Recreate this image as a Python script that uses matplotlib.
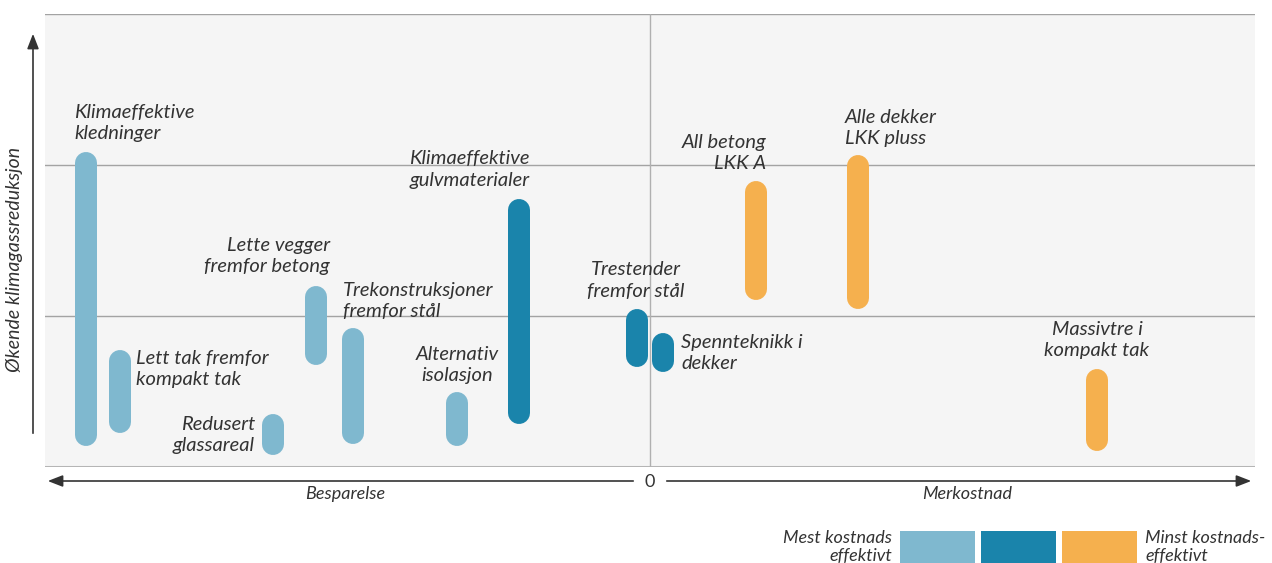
import numpy as np
import matplotlib
matplotlib.use('Agg')
import matplotlib.pyplot as plt
from matplotlib.patches import Rectangle

plt.rcParams['font.family'] = ['Lato', 'DejaVu Sans']

# Data: x = cost (0 = no extra cost), y = climate gas reduction range
labels = ['Klimaeffektive\nkledninger', 'Lett tak fremfor\nkompakt tak', 'Redusert\nglassareal',
          'Lette vegger\nfremfor betong', 'Trekonstruksjoner\nfremfor stål', 'Alternativ\nisolasjon',
          'Klimaeffektive\ngulvmaterialer', 'Trestender\nfremfor stål', 'Spennteknikk i\ndekker',
          'All betong\nLKK A', 'Alle dekker\nLKK pluss', 'Massivtre i\nkompakt tak']
cost = [-564, -530, -377, -334, -297, -193, -131, -13, 13, 106, 208, 447]
red_low = [0.14, 0.225, 0.08, 0.675, 0.15, 0.14, 0.285, 0.66, 0.63, 1.105, 1.045, 0.105]
red_high = [2.085, 0.775, 0.35, 1.2, 0.92, 0.5, 1.775, 1.045, 0.885, 1.895, 2.065, 0.65]
group = [0, 0, 0, 0, 0, 0, 1, 1, 1, 2, 2, 2]

colors = ['#7fb8cf', '#1a84ab', '#f5b04e']

# label placement: x offset from bar (data units), alignment, label block centre (y)
lab_dx = [-12, 16, -18, 14, -10, 0, 11, -1, 18, 10, -13, 0]
lab_ha = ['left', 'left', 'right', 'right', 'left', 'center', 'right', 'center', 'left',
          'right', 'left', 'center']
lab_y = [2.28, 0.65, 0.21, 1.395, 1.1, 0.675, 1.97, 1.235, 0.755, 2.08, 2.245, 0.84]

W, H = 1272, 563
fig = plt.figure(figsize=(W / 100, H / 100), dpi=100)
ax = fig.add_axes([45 / W, (H - 467) / H, 1210 / W, 453 / H])
ax.set_xlim(-605, 605)
ax.set_ylim(0, 3)
ax.set_facecolor('#f5f5f5')
for s in ax.spines.values():
    s.set_visible(False)
ax.set_xticks([])
ax.set_yticks([])

for yv in [1, 2, 3]:
    ax.axhline(yv, color='#a3a3a3', lw=1.0, zorder=1)
ax.axhline(0, color='#b5b5b5', lw=2.2, zorder=1)
ax.axvline(0, color='#b0b0b0', lw=1.0, zorder=1)

bar_px = 22
px_per_y = 453 / 3
r = (bar_px / 2) / px_per_y
lw_pt = bar_px * 72 / 100
for i in range(len(cost)):
    ax.plot([cost[i], cost[i]], [red_low[i] + r, red_high[i] - r], color=colors[group[i]],
            lw=lw_pt, solid_capstyle='round', zorder=3)
    ax.text(cost[i] + lab_dx[i], lab_y[i], labels[i], ha=lab_ha[i], va='center',
            fontsize=14.5, style='italic', color='#333333', linespacing=1.3, zorder=4)

# overlay in pixel coordinates for arrows and legend
ov = fig.add_axes([0, 0, 1, 1])
ov.set_xlim(0, W)
ov.set_ylim(H, 0)
ov.axis('off')
ov.patch.set_alpha(0)

ak = dict(arrowstyle='-|>,head_length=0.9,head_width=0.35', color='#333333', lw=1.2)
ov.annotate('', xy=(33, 31), xytext=(33, 436), arrowprops=ak)
ov.annotate('', xy=(45, 481), xytext=(636, 481), arrowprops=ak)
ov.annotate('', xy=(1254, 481), xytext=(664, 481), arrowprops=ak)
ov.text(650, 482, '0', ha='center', va='center', fontsize=13, color='#333333')
ov.text(345, 494, 'Besparelse', ha='center', va='center', fontsize=13, style='italic', color='#333333')
ov.text(967, 494, 'Merkostnad', ha='center', va='center', fontsize=13, style='italic', color='#333333')
ov.text(15, 259, 'Økende klimagassreduksjon', ha='center', va='center', rotation=90,
        fontsize=14, style='italic', color='#333333')

# legend
leg_x = [900, 981, 1062]
for c, lx in zip(colors, leg_x):
    ov.add_patch(Rectangle((lx, 531), 75, 33, facecolor=c, edgecolor='none'))
ov.text(892, 547, 'Mest kostnads\neffektivt', ha='right', va='center', fontsize=13,
        style='italic', color='#333333', linespacing=1.2)
ov.text(1145, 547, 'Minst kostnads-\neffektivt', ha='left', va='center', fontsize=13,
        style='italic', color='#333333', linespacing=1.2)

fig.savefig('out.png', dpi=100)
